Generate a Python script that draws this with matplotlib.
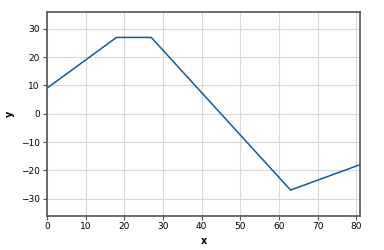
"""Piecewise linear line chart"""

import matplotlib
matplotlib.use("Agg")
import matplotlib.pyplot as plt

x_values = [0, 18, 27, 63, 81]
y_values = [9, 27, 27, -27, -18]
x_ticks = [0, 10, 20, 30, 40, 50, 60, 70, 80]
y_ticks = [-30, -20, -10, 0, 10, 20, 30]


def main():
    fig = plt.figure(figsize=(3.84, 2.5), dpi=100)
    ax = fig.add_axes([0.122, 0.138, 0.816, 0.814])

    ax.plot(x_values, y_values, color="#135a9a", linewidth=1.1)

    ax.set_xlim(0, 81)
    ax.set_ylim(-36, 36)
    ax.set_xticks(x_ticks)
    ax.set_yticks(y_ticks)
    ax.grid(True, color="#d8d8d8", linewidth=0.8)
    ax.set_axisbelow(True)

    for spine in ax.spines.values():
        spine.set_color("#555555")
        spine.set_linewidth(1.2)
    ax.tick_params(labelsize=6.5, length=3, width=0.8, color="#555555", pad=2)

    ax.set_xlabel("x", fontsize=7, fontweight="bold", labelpad=3)
    ax.set_ylabel("y", fontsize=7, fontweight="bold", labelpad=4)

    fig.savefig("out.png", dpi=100)


if __name__ == "__main__":
    main()
